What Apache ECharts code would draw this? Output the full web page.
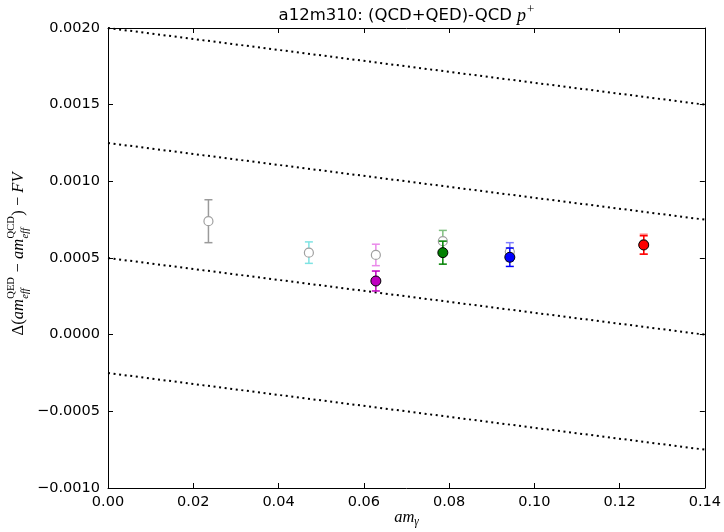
<!DOCTYPE html>
<html>
<head>
<meta charset="utf-8">
<script src="https://cdn.jsdelivr.net/npm/echarts@6/dist/echarts.min.js"></script>
<style>
  html, body { margin: 0; padding: 0; background: #fff; }
  #chart { width: 724px; height: 532px; }
</style>
</head>
<body>
<div id="chart"></div>
<script>
// Photon mass values (a m_gamma)
var xOpen = [0.02356, 0.04712, 0.06283, 0.07854, 0.09425, 0.12566];
// (QCD+QED)-QCD splitting, open markers, with errors
var yOpen = [0.00074, 0.000535, 0.00052, 0.00061, 0.00054, 0.00059];
var eOpen = [0.00014, 0.00007, 0.00007, 0.00007, 0.00006, 0.000065];
var openBarColors = ['#9a9a9a', '#7fe3e3', '#ea8aea', '#80bf80', '#8080ff', '#ff8080'];

// Filled markers (subset of photon masses)
var xFilled = [0.06283, 0.07854, 0.09425, 0.12566];
var yFilled = [0.00035, 0.000535, 0.000505, 0.000585];
var eFilled = [0.000065, 0.000075, 0.00006, 0.00006];
var filledColors = ['#bf00bf', '#008000', '#0000ff', '#ff0000'];

// Reference dotted lines: value at x=0 and at x=0.14
var guideStart = [0.002, 0.00125, 0.0005, -0.00025];
var guideEnd = [0.0015, 0.00075, 0.0, -0.00075];

var xTicks = { min: 0, max: 0.14, step: 0.02 };
var yTicks = { min: -0.001, max: 0.002, step: 0.0005 };

var chart = echarts.init(document.getElementById('chart'), null, { renderer: 'canvas' });

var labelFont = 'DejaVu Sans';
var tickColor = '#000';

function baseX(pos, showLabel) {
  return {
    type: 'value', position: pos, min: xTicks.min, max: xTicks.max, interval: xTicks.step,
    axisLine: { show: true, onZero: false, lineStyle: { color: '#000', width: 1 } },
    axisTick: { show: true, inside: true, length: 5, lineStyle: { color: tickColor, width: 1 } },
    axisLabel: { show: showLabel, formatter: function (v) { return v.toFixed(2); },
      color: '#000', fontFamily: labelFont, fontSize: 14.5, margin: 7 },
    splitLine: { show: false }
  };
}
function baseY(pos, showLabel) {
  return {
    type: 'value', position: pos, min: yTicks.min, max: yTicks.max, interval: yTicks.step,
    axisLine: { show: true, onZero: false, lineStyle: { color: '#000', width: 1 } },
    axisTick: { show: true, inside: true, length: 5, lineStyle: { color: tickColor, width: 1 } },
    axisLabel: { show: showLabel, formatter: function (v) {
        var s = Math.abs(v) < 1e-12 ? '0.0000' : v.toFixed(4);
        return s.replace('-', '\u2212');
      },
      color: '#000', fontFamily: labelFont, fontSize: 14.5, margin: 8 },
    splitLine: { show: false }
  };
}

function errorBarSeries(xs, ys, es, colors, name, z) {
  var data = xs.map(function (x, i) { return [x, ys[i], es[i], i]; });
  return {
    type: 'custom', name: name, xAxisIndex: 0, yAxisIndex: 0, data: data,
    encode: { x: 0, y: 1 }, z: z,
    renderItem: function (params, api) {
      var x = api.value(0), y = api.value(1), e = api.value(2), idx = api.value(3);
      var top = api.coord([x, y + e]);
      var bot = api.coord([x, y - e]);
      var cw = 4;
      var st = { stroke: colors[idx], lineWidth: 1.5 };
      return {
        type: 'group',
        children: [
          { type: 'line', shape: { x1: top[0], y1: top[1], x2: bot[0], y2: bot[1] }, style: st },
          { type: 'line', shape: { x1: top[0] - cw, y1: top[1], x2: top[0] + cw, y2: top[1] }, style: st },
          { type: 'line', shape: { x1: bot[0] - cw, y1: bot[1], x2: bot[0] + cw, y2: bot[1] }, style: st }
        ]
      };
    }
  };
}

var series = [];
guideStart.forEach(function (b, i) {
  series.push({
    type: 'line', xAxisIndex: 0, yAxisIndex: 0, symbol: 'none', silent: true, z: 1,
    data: [[xTicks.min, b], [xTicks.max, guideEnd[i]]],
    lineStyle: { color: '#000', width: 2, type: [2, 3.6] }
  });
});
series.push(errorBarSeries(xOpen, yOpen, eOpen, openBarColors, 'openErr', 3));
series.push({
  type: 'scatter', xAxisIndex: 0, yAxisIndex: 0, z: 4, symbol: 'circle', symbolSize: 9,
  data: xOpen.map(function (x, i) { return [x, yOpen[i]]; }),
  itemStyle: { color: '#ffffff', borderColor: '#a0a0a0', borderWidth: 1.2, opacity: 1 }
});
series.push(errorBarSeries(xFilled, yFilled, eFilled, filledColors, 'filledErr', 5));
series.push({
  type: 'scatter', xAxisIndex: 0, yAxisIndex: 0, z: 6, symbol: 'circle', symbolSize: 10,
  data: xFilled.map(function (x, i) {
    return { value: [x, yFilled[i]], itemStyle: { color: filledColors[i] } };
  }),
  itemStyle: { borderColor: '#000', borderWidth: 1, opacity: 1 }
});

var grid = { left: 108, right: 19, top: 28, bottom: 44 };

// Text layout helpers for the math-style labels
var mctx = document.createElement('canvas').getContext('2d');
function textWidth(t, font) { mctx.font = font; return mctx.measureText(t).width; }

var serifFam = 'Liberation Serif';
var mainSize = 16.5, scriptSize = 10.5;
function fontStr(size, italic) { return (italic ? 'italic ' : '') + size + 'px "' + serifFam + '"'; }

// y-axis label: pieces laid out along the text direction
var yPieces = [
  { t: '\u0394(', it: false },
  { t: 'am', it: true },
  { sup: 'QED', sub: 'eff' },
  { t: ' \u2212 ', it: false },
  { t: 'am', it: true },
  { sup: 'QCD', sub: 'eff' },
  { t: ') \u2212 ', it: false },
  { t: 'FV', it: true }
];
function layoutPieces(pieces) {
  var items = [], x = 0;
  pieces.forEach(function (p) {
    if (p.t !== undefined) {
      var f = fontStr(mainSize, p.it);
      items.push({ type: 'text', x: x, y: 0, style: { text: p.t, font: f, fill: '#000', verticalAlign: 'middle' } });
      x += textWidth(p.t, f);
    } else {
      var fs = fontStr(scriptSize, false), fb = fontStr(scriptSize, true);
      var w1 = textWidth(p.sup, fs), w2 = textWidth(p.sub, fb);
      items.push({ type: 'text', x: x + 0.5, y: -8, style: { text: p.sup, font: fs, fill: '#000', verticalAlign: 'middle' } });
      items.push({ type: 'text', x: x + 0.5, y: 6, style: { text: p.sub, font: fb, fill: '#000', verticalAlign: 'middle' } });
      x += Math.max(w1, w2) + 1;
    }
  });
  items.forEach(function (it) { it.x -= x / 2; });
  return items;
}

var titleMain = 'a12m310: (QCD+QED)-QCD ';
var titleFont = '16.5px "DejaVu Sans"';
var pFont = fontStr(18, true), plusFont = fontStr(13, false);
var wMain = textWidth(titleMain, titleFont);
var wP = textWidth('p', pFont);
var wPlus = textWidth('+', plusFont);
var titleW = wMain + wP + wPlus + 1;
var plotCx = grid.left + (724 - grid.left - grid.right) / 2;
var tx0 = plotCx - titleW / 2;

// x-axis name: am with subscript gamma
var amFont = fontStr(16.5, true), gFont = fontStr(11.5, true);
var wAm = textWidth('am', amFont), wG = textWidth('\u03b3', gFont);
var ax0 = plotCx - (wAm + wG) / 2;

var option = {
  animation: false,
  backgroundColor: '#ffffff',
  grid: grid,
  xAxis: [baseX('bottom', true), baseX('top', false)],
  yAxis: [baseY('left', true), baseY('right', false)],
  series: series,
  graphic: [
    {
      type: 'group', x: 19, y: 254, rotation: Math.PI / 2,
      children: layoutPieces(yPieces)
    },
    {
      type: 'group', x: 0, y: 0,
      children: [
        { type: 'text', x: tx0, y: 16, style: { text: titleMain, font: titleFont, fill: '#000', verticalAlign: 'middle' } },
        { type: 'text', x: tx0 + wMain, y: 16, style: { text: 'p', font: pFont, fill: '#000', verticalAlign: 'middle' } },
        { type: 'text', x: tx0 + wMain + wP + 1, y: 10, style: { text: '+', font: plusFont, fill: '#000', verticalAlign: 'middle' } }
      ]
    },
    {
      type: 'group', x: 0, y: 0,
      children: [
        { type: 'text', x: ax0, y: 518, style: { text: 'am', font: amFont, fill: '#000', verticalAlign: 'middle' } },
        { type: 'text', x: ax0 + wAm, y: 522, style: { text: '\u03b3', font: gFont, fill: '#000', verticalAlign: 'middle' } }
      ]
    }
  ]
};
chart.setOption(option);
</script>
</body>
</html>
